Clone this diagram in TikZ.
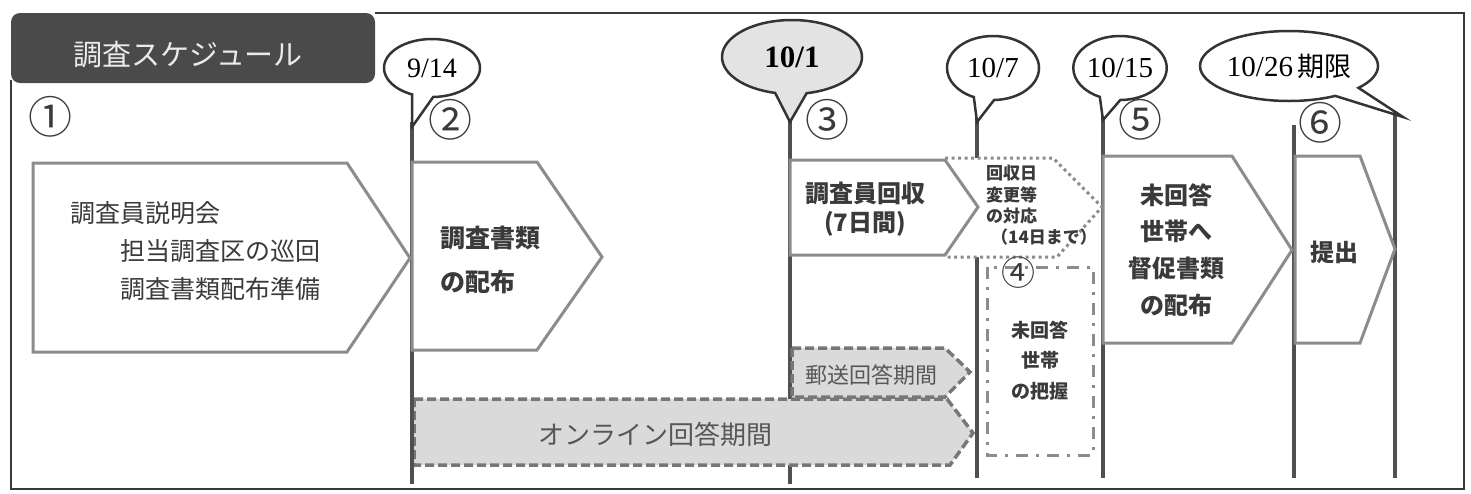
\documentclass[tikz,border=0pt]{standalone}
\usepackage{fontspec}
\setmainfont{Liberation Serif}
\newfontfamily\jp{Noto Sans CJK JP}
\newfontfamily\dt{Liberation Serif}
\usetikzlibrary{shapes.callouts}
\definecolor{lineg}{HTML}{505050}
\definecolor{boxg}{HTML}{8C8C8C}
\definecolor{fillg}{HTML}{DADADA}
\definecolor{txtg}{HTML}{3A3A3A}
\definecolor{ttlg}{HTML}{4A4A4A}
\newcommand\fsz[1]{\fontsize{#1}{#1}\selectfont}
\tikzset{
  tline/.style={lineg, line width=4pt},
  solidarrow/.style={draw=boxg, fill=white, line width=3pt, line join=miter},
  dasharrow/.style={draw=boxg!85!black, fill=fillg, line width=3.5pt, dash pattern=on 9pt off 4pt},
  dotarrow/.style={draw=boxg, line width=3pt, dash pattern=on 3pt off 3.5pt},
  dbox/.style={draw=boxg, line width=3pt, dash pattern=on 12pt off 8pt on 3pt off 8pt},
  bub/.style={ellipse callout, draw=txtg!90!black, fill=white, line width=2.5pt, inner sep=0pt, callout pointer arc=26},
  lbl/.style={inner sep=0pt, text=txtg, font=\jp},
  bl/.style={inner sep=0pt, text=txtg, font=\jp\bfseries},
  num/.style={inner sep=0pt, text=txtg, font=\jp\fsz{44}}
}
\begin{document}
\begin{tikzpicture}[x=1pt,y=-1pt]
\useasboundingbox (0,0) rectangle (1471,493);
% frame
\coordinate (f1) at (375,13);
\coordinate (f2) at (1464,13);
\coordinate (f3) at (1464,489);
\coordinate (f4) at (11,489);
\coordinate (f5) at (11,80);
\draw[txtg, line width=1.5pt] (f1) -- (f2) -- (f3) -- (f4) -- (f5);
% title
\fill[ttlg, rounded corners=9pt] (11,13) rectangle (375,83);
\node[inner sep=0pt, text=white!92!black, font=\jp\fsz{29}] (title) at (188,55) {調査スケジュール};

% timeline coordinates
\coordinate (l1t) at (412,127); \coordinate (l1b) at (412,484);
\coordinate (l2t) at (790,122); \coordinate (l2b) at (790,484);
\coordinate (l3t) at (977,122); \coordinate (l3b) at (977,478);
\coordinate (l4t) at (1103,120); \coordinate (l4b) at (1103,478);
\coordinate (l5t) at (1294,125); \coordinate (l5b) at (1294,478);
\coordinate (l6t) at (1395,117); \coordinate (l6b) at (1395,478);

\draw[tline] ([yshift=6pt]l2t) -- (l2b);
\draw[tline] ([yshift=4pt]l3t) -- (l3b);
\draw[tline] ([yshift=5pt]l4t) -- (l4b);
\draw[tline] (l5t) -- (l5b);
\draw[tline] ([yshift=6pt]l6t) -- (l6b);

% dotted arrow (change of collection date)
\fill[white] (940,158) -- (1053,158) -- (1102,207) -- (1057,257) -- (940,257) -- cycle;
\draw[dotarrow] (945,158) -- (1053,158) -- (1102,207) -- (1057,257) -- (945,257);

% mail and online arrows
\draw[dasharrow] (792,348) -- (945,348) -- (970,372) -- (945,397) -- (792,397) -- cycle;
\draw[dasharrow] (414,399) -- (947,399) -- (973,433) -- (950,465) -- (414,465) -- cycle;
\draw[tline] ([yshift=5pt]l1t) -- (l1b);

% solid arrows
\draw[solidarrow] (33,163) -- (347,163) -- (410,258) -- (347,352) -- (33,352) -- cycle;
\draw[solidarrow] (412,162) -- (537,162) -- (602,257) -- (537,350) -- (412,350) -- cycle;
\draw[solidarrow] (790,160) -- (945,160) -- (978,207) -- (945,255) -- (790,255) -- cycle;
\draw[solidarrow] (1103,156) -- (1232,156) -- (1292,250) -- (1232,343) -- (1103,343) -- cycle;
\draw[solidarrow] (1295,156) -- (1360,156) -- (1395,249) -- (1360,343) -- (1295,343) -- cycle;

% dashed box 4
\draw[dbox] (987,267) rectangle (1093,455);

% texts of step 1
\node[lbl, font=\jp\fsz{25}, anchor=west] (t1a) at (70,213) {調査員説明会};
\node[lbl, font=\jp\fsz{25}, anchor=west] (t1b) at (120,251) {担当調査区の巡回};
\node[lbl, font=\jp\fsz{25}, anchor=west] (t1c) at (120,289) {調査書類配布準備};
% step 2
\node[bl, font=\jp\bfseries\fsz{25}, anchor=west] (t2a) at (440,238) {調査書類};
\node[bl, font=\jp\bfseries\fsz{25}, anchor=west] (t2b) at (440,282) {の配布};
% step 3
\node[bl, font=\jp\bfseries\fsz{24}] (t3a) at (865,193) {調査員回収};
\node[bl, font=\jp\bfseries\fsz{24}] (t3b) at (865,224) {(7日間)};
\node[bl, font=\jp\bfseries\fsz{17}, anchor=west] (t3c) at (986,173) {回収日};
\node[bl, font=\jp\bfseries\fsz{17}, anchor=west] (t3d) at (986,195) {変更等};
\node[bl, font=\jp\bfseries\fsz{17}, anchor=west] (t3e) at (986,216) {の対応};
\node[bl, font=\jp\bfseries\fsz{17}, anchor=west] (t3f) at (991,237) {（14日まで）};
% step 4
\node[bl, font=\jp\bfseries\fsz{19}] (t4a) at (1040,330) {未回答};
\node[bl, font=\jp\bfseries\fsz{19}] (t4b) at (1040,360) {世帯};
\node[bl, font=\jp\bfseries\fsz{19}] (t4c) at (1040,391) {の把握};
% mail / online
\node[lbl, font=\jp\fsz{22}, text=txtg!85] (tm) at (871,375) {郵送回答期間};
\node[lbl, font=\jp\fsz{26}, text=txtg!85] (to) at (655,434) {オンライン回答期間};
% step 5
\node[bl, font=\jp\bfseries\fsz{24}] (t5a) at (1176,195) {未回答};
\node[bl, font=\jp\bfseries\fsz{24}] (t5b) at (1176,231) {世帯へ};
\node[bl, font=\jp\bfseries\fsz{24}] (t5c) at (1176,268) {督促書類};
\node[bl, font=\jp\bfseries\fsz{24}] (t5d) at (1176,305) {の配布};
% step 6
\node[bl, font=\jp\bfseries\fsz{24}] (t6) at (1334,252) {提出};

% circled numbers
\node[num] (n1) at (50,117) {①};
\node[num] (n2) at (450,120) {②};
\node[num] (n3) at (827,120) {③};
\node[num, font=\jp\fsz{34}] (n4) at (1018,273) {④};
\node[num] (n5) at (1140,120) {⑤};
\node[num] (n6) at (1320,123) {⑥};

% speech bubbles
\node[bub, minimum width=96pt, minimum height=58pt, callout absolute pointer={(l1t)}] (b1) at (432,68) {\dt\fsz{28}9/14};
\node[bub, fill=gray!22, minimum width=140pt, minimum height=74pt, callout pointer arc=26, callout absolute pointer={(l2t)}] (b2) at (792,57) {\dt\bfseries\fsz{31}10/1};
\node[bub, minimum width=92pt, minimum height=64pt, callout absolute pointer={(l3t)}] (b3) at (993,68) {\dt\fsz{29}10/7};
\node[bub, minimum width=90pt, minimum height=64pt, callout absolute pointer={(l4t)}] (b4) at (1120,68) {\dt\fsz{29}10/15};
\node[bub, minimum width=178pt, minimum height=70pt, callout pointer arc=20, callout absolute pointer={(1403,117)}] (b5) at (1289,66) {\dt\fsz{29}10/26\hspace{4pt}{\jp\fsz{27}期限}};
\end{tikzpicture}
\end{document}
